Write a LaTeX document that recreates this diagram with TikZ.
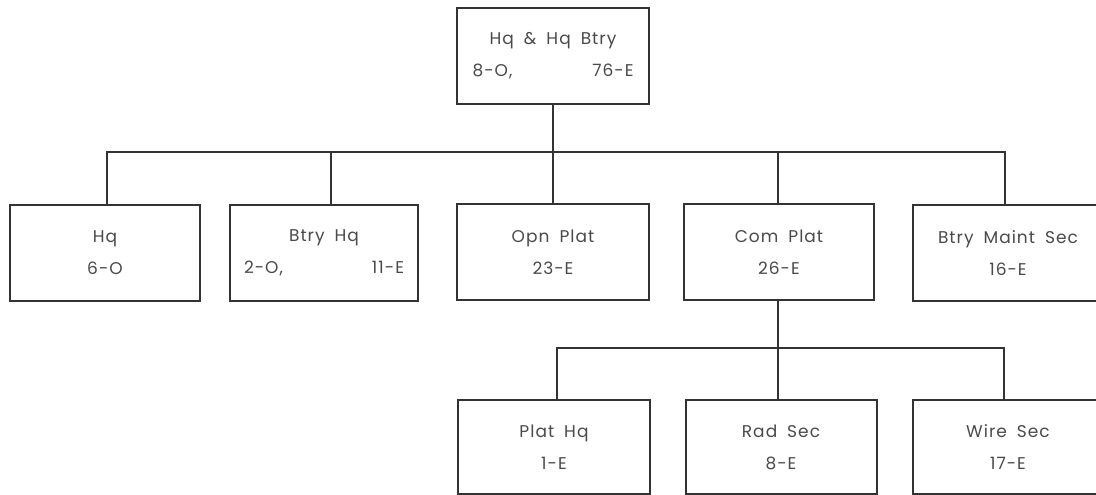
\documentclass[tikz,border=0pt]{standalone}
\usepackage{fontspec}
\setmainfont{Poppins}[LetterSpace=6,WordSpace=1.8]
\definecolor{ink}{HTML}{333333}
\definecolor{txt}{HTML}{4A4A4A}
\begin{document}
\begin{tikzpicture}[x=1pt,y=-1pt,
  unit/.style={draw=ink, line width=2pt, rectangle, inner sep=0pt, align=center,
    text=txt, font=\fontsize{17}{32}\selectfont, minimum height=96pt},
  link/.style={draw=ink, line width=2pt, line join=miter}]
\clip (0,0) rectangle (1096,495);
\fill[white] (0,0) rectangle (1096,495);
% top
\node[unit, minimum width=192pt] (top) at (553,56)
  {Hq \& Hq Btry\\\makebox[161pt]{8-O,\hfill 76-E}};
% row 1
\node[unit, minimum width=190pt] (hq) at (105,253) {Hq\\6-O};
\node[unit, minimum width=188pt] (bhq) at (324,253)
  {Btry Hq\\\makebox[160pt]{2-O,\hfill 11-E}};
\node[unit, minimum width=192pt] (opn) at (553,252) {Opn Plat\\23-E};
\node[unit, minimum width=190pt] (com) at (779,252) {Com Plat\\26-E};
\node[unit, minimum width=190pt] (mnt) at (1008,253) {Btry Maint Sec\\16-E};
% row 2
\node[unit, minimum width=192pt, minimum height=94pt] (phq) at (554,447) {Plat Hq\\1-E};
\node[unit, minimum width=191pt, minimum height=94pt] (rad) at (781,447) {Rad Sec\\8-E};
\node[unit, minimum width=190pt, minimum height=94pt] (wir) at (1008,447) {Wire Sec\\17-E};
% bus 1
\coordinate (b1) at (107,152);
\coordinate (b2) at (331,152);
\coordinate (b4) at (778,152);
\coordinate (b5) at (1005,152);
\draw[link] (top.south) -- (opn.north);
\draw[link] (b1 |- hq.north) -- (b1) -- (b5) -- (b5 |- mnt.north);
\draw[link] (b2) -- (b2 |- bhq.north);
\draw[link] (b4) -- (b4 |- com.north);
% bus 2
\coordinate (c1) at (557,348);
\coordinate (c3) at (1004,348);
\draw[link] (com.south -| b4) -- (b4 |- rad.north);
\draw[link] (c1 |- phq.north) -- (c1) -- (c3) -- (c3 |- wir.north);
\end{tikzpicture}
\end{document}
